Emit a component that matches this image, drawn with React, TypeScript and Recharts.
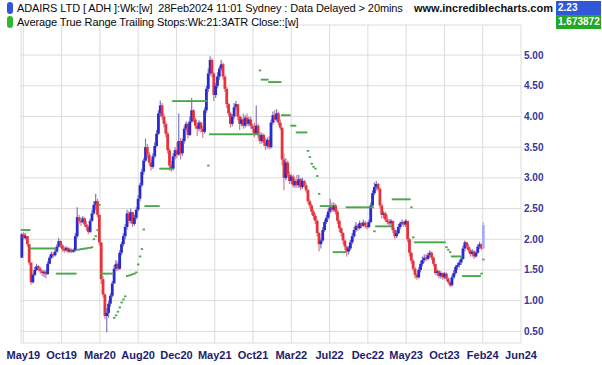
import React from 'react';
import { ComposedChart, Bar, Scatter, XAxis, YAxis, CartesianGrid } from 'recharts';

// weekly bars, May 2019 .. 28 Feb 2024
const firstOpen = 1.70;

const closes = [
  2.08, 2.02, 2.05, 1.92, 1.62, 1.30, 1.42, 1.50, 1.56, 1.52,
  1.48, 1.45, 1.47, 1.43, 1.60, 1.70, 1.76, 1.74, 1.80, 1.88,
  1.97, 1.90, 1.84, 1.82, 1.86, 1.80, 1.83, 1.80, 1.82, 2.05,
  2.36, 2.30, 2.28, 2.34, 2.24, 2.20, 2.12, 2.30, 2.42, 2.56,
  2.62, 2.40, 1.95, 1.35, 1.10, 0.75, 0.80, 0.95, 1.08, 1.28,
  1.52, 1.60, 1.52, 1.78, 1.92, 2.05, 2.20, 2.42, 2.30, 2.44,
  2.25, 2.35, 2.48, 2.66, 2.88, 3.10, 3.28, 3.50, 3.38, 3.25,
  3.18, 3.35, 3.52, 3.72, 4.05, 4.18, 4.00, 3.88, 3.72, 3.45,
  3.20, 3.15, 3.35, 3.45, 3.38, 3.60, 3.40, 3.60, 3.80, 3.88,
  3.70, 3.92, 4.10, 3.95, 3.85, 3.80, 3.90, 3.80, 3.75, 4.10,
  4.45, 4.70, 4.92, 4.70, 4.35, 4.50, 4.65, 4.78, 4.85, 4.65,
  4.45, 4.20, 4.05, 3.88, 4.00, 4.15, 4.20, 4.00, 3.88, 3.95,
  3.85, 3.98, 3.88, 3.95, 3.85, 3.80, 3.72, 3.85, 3.70, 3.60,
  3.70, 3.58, 3.52, 3.62, 3.50, 3.90, 4.02, 3.95, 4.05, 3.90,
  3.82, 3.30, 3.00, 3.25, 3.05, 2.95, 3.02, 2.88, 2.95, 2.88,
  2.98, 2.85, 2.95, 2.88, 2.80, 2.62, 2.55, 2.45, 2.38, 2.30,
  2.10, 1.92, 1.98, 2.15, 2.28, 2.35, 2.45, 2.52, 2.48, 2.55,
  2.45, 2.30, 2.18, 2.10, 1.98, 1.88, 1.80, 1.85, 1.95, 2.05,
  2.15, 2.22, 2.18, 2.26, 2.22, 2.27, 2.22, 2.20, 2.28, 2.55,
  2.75, 2.85, 2.90, 2.82, 2.55, 2.40, 2.42, 2.32, 2.28, 2.26,
  2.30, 2.15, 2.05, 2.10, 2.20, 2.26, 2.28, 2.24, 2.30, 2.00,
  1.78, 1.65, 1.52, 1.42, 1.38, 1.50, 1.60, 1.66, 1.70, 1.68,
  1.74, 1.78, 1.70, 1.60, 1.45, 1.48, 1.40, 1.45, 1.38, 1.44,
  1.36, 1.30, 1.25, 1.38, 1.45, 1.55, 1.58, 1.62, 1.68, 1.85,
  1.95, 1.88, 1.82, 1.76, 1.80, 1.72, 1.78, 1.88, 1.92, 1.85,
  2.23,
];

const highs = [
  2.10, 2.12, 2.10, 2.05, 1.92, 1.62, 1.45, 1.55, 1.60, 1.58,
  1.55, 1.50, 1.50, 1.50, 1.64, 1.74, 1.80, 1.79, 1.84, 1.92,
  2.02, 1.98, 1.92, 1.88, 1.89, 1.87, 1.86, 1.85, 1.85, 2.10,
  2.52, 2.40, 2.36, 2.38, 2.36, 2.30, 2.22, 2.34, 2.48, 2.62,
  2.74, 2.66, 2.40, 1.95, 1.40, 1.12, 0.88, 1.00, 1.12, 1.32,
  1.58, 1.66, 1.64, 1.82, 1.96, 2.10, 2.25, 2.48, 2.46, 2.50,
  2.45, 2.40, 2.52, 2.72, 2.92, 3.15, 3.32, 3.64, 3.55, 3.42,
  3.30, 3.40, 3.58, 3.78, 4.10, 4.26, 4.22, 4.05, 3.92, 3.75,
  3.48, 3.28, 3.40, 3.50, 3.58, 4.05, 3.65, 3.64, 3.85, 3.92,
  3.90, 4.00, 4.30, 4.12, 3.98, 3.90, 3.94, 3.92, 3.85, 4.15,
  4.50, 4.78, 4.98, 4.95, 4.72, 4.55, 4.72, 4.82, 4.92, 4.88,
  4.68, 4.48, 4.22, 4.08, 4.04, 4.22, 4.25, 4.20, 4.02, 3.99,
  4.05, 4.02, 4.05, 3.99, 4.00, 3.88, 3.90, 4.18, 3.88, 3.75,
  3.74, 3.72, 3.65, 3.66, 3.68, 3.95, 4.08, 4.10, 4.12, 4.08,
  3.95, 3.82, 3.40, 3.32, 3.28, 3.10, 3.06, 3.05, 2.99, 3.05,
  3.05, 3.00, 3.00, 2.97, 2.92, 2.82, 2.65, 2.58, 2.48, 2.42,
  2.32, 2.12, 2.02, 2.20, 2.32, 2.40, 2.50, 2.66, 2.60, 2.60,
  2.58, 2.48, 2.32, 2.20, 2.12, 2.00, 1.90, 1.89, 1.99, 2.10,
  2.20, 2.28, 2.25, 2.30, 2.28, 2.32, 2.30, 2.28, 2.32, 2.60,
  2.80, 2.92, 2.95, 2.92, 2.85, 2.58, 2.46, 2.45, 2.40, 2.33,
  2.33, 2.28, 2.18, 2.15, 2.25, 2.29, 2.32, 2.30, 2.33, 2.28,
  2.02, 1.80, 1.68, 1.55, 1.45, 1.54, 1.65, 1.72, 1.75, 1.76,
  1.78, 1.82, 1.80, 1.72, 1.58, 1.52, 1.50, 1.48, 1.46, 1.47,
  1.46, 1.38, 1.32, 1.42, 1.50, 1.58, 1.62, 1.66, 1.72, 1.90,
  1.98, 1.96, 1.92, 1.85, 1.84, 1.82, 1.81, 1.92, 1.96, 1.93,
  2.28,
];

const lows = [
  1.70, 1.98, 2.00, 1.88, 1.58, 1.26, 1.28, 1.40, 1.48, 1.48,
  1.44, 1.40, 1.38, 1.36, 1.43, 1.60, 1.68, 1.70, 1.72, 1.78,
  1.86, 1.86, 1.80, 1.78, 1.80, 1.77, 1.78, 1.77, 1.78, 1.80,
  2.02, 2.24, 2.22, 2.26, 2.20, 2.14, 2.08, 2.10, 2.28, 2.40,
  2.48, 2.36, 1.90, 1.27, 1.05, 0.70, 0.48, 0.72, 0.90, 1.05,
  1.28, 1.48, 1.48, 1.50, 1.74, 1.88, 2.00, 2.16, 2.24, 2.26,
  2.20, 2.22, 2.32, 2.45, 2.62, 2.85, 3.05, 3.26, 3.32, 3.20,
  3.12, 3.15, 3.32, 3.50, 3.70, 4.00, 3.95, 3.82, 3.66, 3.40,
  3.12, 3.10, 3.12, 3.30, 3.32, 3.36, 3.30, 3.36, 3.56, 3.76,
  3.64, 3.68, 3.90, 3.90, 3.80, 3.68, 3.76, 3.74, 3.65, 3.72,
  4.06, 4.40, 4.66, 4.64, 4.25, 4.30, 4.46, 4.60, 4.74, 4.60,
  4.40, 4.14, 4.00, 3.82, 3.84, 3.96, 4.10, 3.94, 3.78, 3.84,
  3.80, 3.82, 3.84, 3.84, 3.80, 3.74, 3.66, 3.70, 3.64, 3.55,
  3.56, 3.52, 3.45, 3.48, 3.46, 3.48, 3.86, 3.90, 3.92, 3.86,
  3.78, 3.20, 2.80, 2.96, 3.00, 2.90, 2.90, 2.84, 2.84, 2.84,
  2.84, 2.80, 2.82, 2.84, 2.76, 2.58, 2.50, 2.40, 2.32, 2.25,
  2.05, 1.80, 1.85, 1.95, 2.12, 2.25, 2.32, 2.42, 2.44, 2.45,
  2.40, 2.25, 2.12, 2.05, 1.92, 1.82, 1.72, 1.75, 1.82, 1.92,
  2.02, 2.12, 2.14, 2.16, 2.18, 2.20, 2.18, 2.16, 2.18, 2.26,
  2.52, 2.72, 2.80, 2.78, 2.50, 2.34, 2.34, 2.28, 2.24, 2.22,
  2.22, 2.10, 2.00, 2.02, 2.08, 2.16, 2.22, 2.20, 2.20, 1.95,
  1.72, 1.60, 1.48, 1.36, 1.34, 1.36, 1.46, 1.56, 1.62, 1.64,
  1.66, 1.70, 1.66, 1.56, 1.42, 1.40, 1.36, 1.36, 1.34, 1.35,
  1.32, 1.27, 1.22, 1.23, 1.35, 1.42, 1.50, 1.54, 1.58, 1.66,
  1.80, 1.84, 1.78, 1.72, 1.72, 1.68, 1.70, 1.76, 1.84, 1.82,
  1.84,
];

// ATR trailing stop, one value per week
const stops = [
  2.15, 2.15, 2.15, 2.15, 2.15, 1.85, 1.85, 1.85, 1.85, 1.85,
  1.85, 1.85, 1.85, 1.85, 1.85, 1.85, 1.85, 1.85, 1.85, 1.44,
  1.44, 1.44, 1.44, 1.44, 1.44, 1.44, 1.44, 1.44, 1.44, 1.44,
  1.83, 1.83, 1.84, 1.84, 1.85, 1.85, 1.86, 1.86, 1.87, 2.00,
  2.05, 2.15, 2.56, 1.44, 1.44, 1.44, 1.44, 1.44, 1.44, 1.44,
  0.72, 0.76, 0.82, 0.89, 0.97, 1.02, 1.07, 1.40, 1.41, 1.42,
  1.43, 1.44, 1.46, 1.59, 1.72, 1.84, 2.16, 2.54, 2.54, 2.54,
  2.54, 2.54, 2.54, 2.54, 2.54, 3.15, 3.15, 3.15, 3.15, 3.15,
  3.15, 3.15, 4.25, 4.25, 4.25, 4.25, 4.25, 4.25, 4.25, 4.25,
  4.25, 4.25, 4.25, 4.25, 4.25, 4.25, 4.25, 4.25, 4.25, 4.25,
  4.25, 3.20, 3.71, 3.71, 3.71, 3.71, 3.71, 3.71, 3.71, 3.71,
  3.71, 3.71, 3.71, 3.71, 3.71, 3.71, 3.71, 3.71, 3.71, 3.71,
  3.71, 3.71, 3.71, 3.71, 3.71, 3.71, 3.71, 3.71, 3.71, 4.75,
  4.60, 4.60, 4.60, 4.60, 4.56, 4.56, 4.56, 4.56, 4.56, 4.56,
  4.56, 4.02, 4.02, 4.02, 4.02, 4.02, 3.85, 3.85, 3.85, 3.74,
  3.74, 3.74, 3.74, 3.74, 3.74, 3.44, 3.34, 3.23, 3.18, 3.15,
  3.03, 2.74, 2.54, 2.54, 2.54, 2.54, 2.54, 2.54, 2.54, 1.79,
  1.79, 1.79, 1.79, 1.79, 1.79, 1.79, 2.52, 2.52, 2.52, 2.52,
  2.52, 2.52, 2.52, 2.52, 2.52, 2.52, 2.52, 2.52, 2.52, 2.52,
  2.52, 2.13, 2.21, 2.21, 2.21, 2.21, 2.21, 2.21, 2.21, 2.21,
  2.21, 2.65, 2.65, 2.65, 2.65, 2.65, 2.65, 2.65, 2.65, 2.65,
  2.65, 2.52, 2.03, 1.95, 1.95, 1.95, 1.95, 1.95, 1.95, 1.95,
  1.95, 1.95, 1.95, 1.95, 1.95, 1.95, 1.95, 1.95, 1.95, 1.95,
  1.87, 1.83, 1.79, 1.72, 1.72, 1.72, 1.72, 1.72, 1.72, 1.40,
  1.40, 1.40, 1.40, 1.40, 1.40, 1.40, 1.40, 1.40, 1.40, 1.44,
  1.67,
];

const xTickLabels = ['May19', 'Oct19', 'Mar20', 'Aug20', 'Dec20', 'May21', 'Oct21', 'Mar22', 'Jul22', 'Dec22', 'May23', 'Oct23', 'Feb24', 'Jun24'];
const yTicks = [0.5, 1.0, 1.5, 2.0, 2.5, 3.0, 3.5, 4.0, 4.5, 5.0];

// label positions in week units (evenly spaced bar counts)
const firstTickWeek = 0.75;
const weeksPerTick = 20.74;
const xTicks = xTickLabels.map((_, k) => firstTickWeek + k * weeksPerTick);
const xMax = xTicks[xTicks.length - 1];

const bars = closes.map((c, i) => ({
  i,
  open: i === 0 ? firstOpen : closes[i - 1],
  close: c,
  high: highs[i],
  low: lows[i],
  last: i === closes.length - 1,
}));

const stopPts = stops.map((s, i) => ({ i, stop: s }));

const Candle = (props: any) => {
  const { x, y, width, height, payload } = props;
  if (!payload) return null;
  const { open, close, high, low, last } = payload;
  const top = Math.min(y, y + height);
  const bot = Math.max(y, y + height);
  const span = high - low || 1;
  const py = (v: number) => top + ((high - v) / span) * (bot - top);
  const up = close >= open;
  const cx = x + width / 2;
  const body = last ? '#a9a9f2' : up ? '#2a2ad2' : '#e8323a';
  const wick = last ? '#b4b4f2' : up ? '#7c76c4' : '#cf7f95';
  const b1 = Math.min(py(open), py(close));
  const b2 = Math.max(py(open), py(close));
  return (
    <g>
      <line x1={cx} x2={cx} y1={top} y2={bot} stroke={wick} strokeWidth={1.2} />
      <rect x={cx - 1.4} y={b1} width={2.8} height={Math.max(1.5, b2 - b1)} fill={body} />
    </g>
  );
};

const StopTick = (props: any) => {
  const { cx, cy } = props;
  return <rect x={cx - 1.2} y={cy - 0.9} width={2.4} height={1.8} fill="#4aa64a" />;
};

const labelFor = (v: number) => {
  const k = xTicks.findIndex((t) => Math.abs(t - v) < 0.01);
  return k >= 0 ? xTickLabels[k] : '';
};

const headerText = { position: 'absolute' as const, left: 17, fontSize: 11, color: '#0a0a0a', whiteSpace: 'pre' as const, lineHeight: '14px', letterSpacing: '-0.1px' };

const App = () => {
  return (
    <div style={{ position: 'absolute', left: 0, top: 0, width: 602, height: 365, background: '#fff', fontFamily: 'Arial, "Liberation Sans", sans-serif' }}>
      <ComposedChart width={602} height={365} data={bars} margin={{ top: 25, right: 41, bottom: 0, left: 21 }}>
        <CartesianGrid stroke="#dcdcdc" strokeWidth={1} />
        <XAxis
          dataKey="i"
          type="number"
          domain={[-0.5, xMax]}
          ticks={xTicks}
          interval={0}
          tickFormatter={labelFor}
          axisLine={false}
          tickLine={false}
          height={22}
          tick={{ fill: '#1d1d6e', fontSize: 11, fontWeight: 'bold', fontFamily: 'Arial, "Liberation Sans", sans-serif' }}
        />
        <YAxis
          orientation="right"
          type="number"
          domain={[0.31, 5.49]}
          ticks={yTicks}
          interval={0}
          width={40}
          tickFormatter={(v: number) => v.toFixed(2)}
          axisLine={false}
          tickLine={false}
          tickSize={1}
          tickMargin={2}
          tick={{ fill: '#35359c', fontSize: 10, fontWeight: 'bold', fontFamily: 'Arial, "Liberation Sans", sans-serif' }}
        />
        <Bar dataKey={(d: any) => [d.low, d.high]} barSize={2} shape={<Candle />} isAnimationActive={false} />
        <Scatter data={stopPts} dataKey="stop" shape={<StopTick />} isAnimationActive={false} />
      </ComposedChart>

      <div style={{ position: 'absolute', left: 7, top: 2, width: 6, height: 12, borderRadius: 3, background: '#2f55d8' }} />
      <div style={{ position: 'absolute', left: 7, top: 16, width: 6, height: 12, borderRadius: 3, background: '#2eb82e' }} />
      <div style={{ ...headerText, top: 1 }}>
        {'ADAIRS LTD [ ADH ]:Wk:[w]  28Feb2024 11:01 Sydney : Data Delayed > 20mins'}
      </div>
      <div style={{ ...headerText, top: 15 }}>
        {'Average True Range Trailing Stops:Wk:21:3ATR Close::[w]'}
      </div>
      <div style={{ position: 'absolute', left: 414, top: 1, fontSize: 11, fontWeight: 'bold', color: '#111', lineHeight: '14px' }}>
        www.incrediblecharts.com
      </div>
      <div style={{ position: 'absolute', left: 556, top: 1, width: 45, height: 14, background: '#3157d9', color: '#fff', fontSize: 10, fontWeight: 'bold', lineHeight: '14px', paddingLeft: 2, boxSizing: 'border-box' }}>
        2.23
      </div>
      <div style={{ position: 'absolute', left: 556, top: 15, width: 45, height: 14, background: '#22a822', color: '#fff', fontSize: 10, fontWeight: 'bold', lineHeight: '14px', paddingLeft: 2, boxSizing: 'border-box' }}>
        1.673872
      </div>
    </div>
  );
};

export default App;
